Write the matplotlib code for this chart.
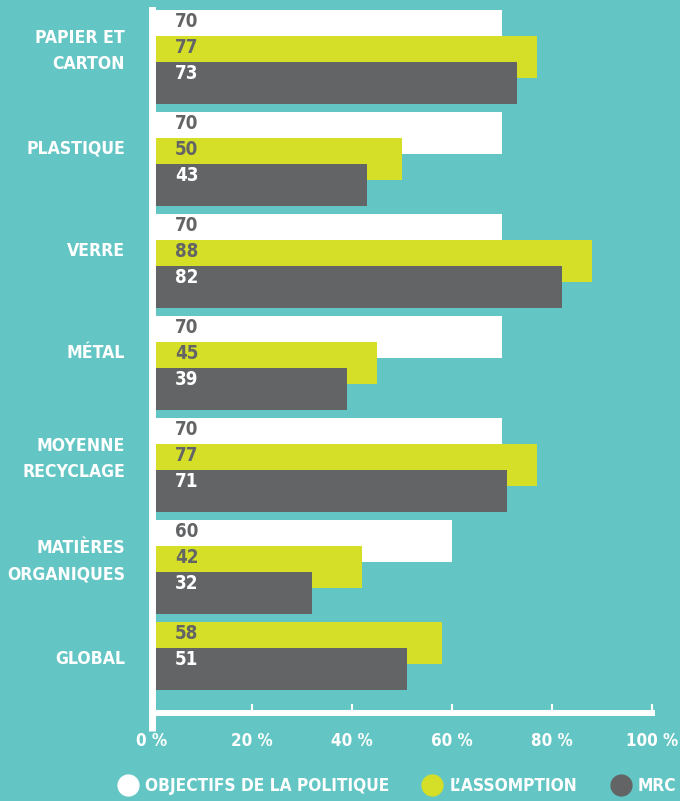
import matplotlib.pyplot as plt
from matplotlib.lines import Line2D
from matplotlib import font_manager

# données du graphique (taux de récupération, %)
categories = ["PAPIER ET\nCARTON", "PLASTIQUE", "VERRE", "MÉTAL",
              "MOYENNE\nRECYCLAGE", "MATIÈRES\nORGANIQUES", "GLOBAL"]
objectifs = [70, 70, 70, 70, 70, 60, None]
assomption = [77, 50, 88, 45, 77, 42, 58]
mrc = [73, 43, 82, 39, 71, 32, 51]
ticks = [0, 20, 40, 60, 80, 100]
tick_labels = ["0 %", "20 %", "40 %", "60 %", "80 %", "100 %"]

fond = "#64c6c4"
blanc = "#ffffff"
jaune = "#d5df27"
gris = "#636466"


def poids(f):
    w = f.weight
    if isinstance(w, str):
        w = font_manager.weight_dict.get(w, 400)
    return w


# on cherche une police étroite et grasse installée
etroites = []
for f in font_manager.fontManager.ttflist:
    etroit = "Condensed" in f.name or "Narrow" in f.name or f.stretch in ("condensed", "semi-condensed")
    if etroit and poids(f) >= 600 and "Italic" not in f.name and f.style == "normal":
        if f.name not in etroites:
            etroites.append(f.name)
plt.rcParams["font.family"] = etroites + ["DejaVu Sans"]
plt.rcParams["font.stretch"] = "condensed"
plt.rcParams["font.weight"] = "bold"

fig = plt.figure(figsize=(6.8, 8.01), dpi=100, facecolor=fond)
# axe : x de 152 px à 652 px, y de 10 px à 713 px
ax = fig.add_axes([152 / 680, (801 - 713) / 801, 500 / 680, 703 / 801])
ax.set_facecolor(fond)

pas = 102.0          # hauteur d'un groupe en pixels
h = 42 / pas         # hauteur d'une barre
dec = 26 / pas       # décalage entre barres (elles se chevauchent)

for i in range(len(categories)):
    series = [(objectifs[i], blanc, gris), (assomption[i], jaune, gris), (mrc[i], gris, "white")]
    series = [s for s in series if s[0] is not None]
    for k, (val, col, tcol) in enumerate(series):
        haut = i + k * dec
        ax.barh(haut + h / 2, val, height=h, color=col, left=0, zorder=2 + k)
        ax.text(4.6, haut + 11.5 / pas, str(val), color=tcol, fontsize=13.5,
                fontweight="bold", ha="left", va="center", zorder=10)

ax.set_xlim(0, 100)
ax.set_ylim(703 / pas, 0)

ax.set_yticks([i + 35 / pas for i in range(len(categories))])
ax.set_yticklabels(categories, color="white", fontsize=12.6, fontweight="bold",
                   linespacing=1.6, ha="right")
ax.tick_params(axis="y", left=False, pad=22 * 0.72)

ax.set_xticks(ticks)
ax.set_xticklabels(tick_labels, color="white", fontsize=12.2, fontweight="bold")
ax.tick_params(axis="x", direction="in", length=6.5, width=1.5, color="white", pad=14)

for s in ["top", "right"]:
    ax.spines[s].set_visible(False)
ax.spines["left"].set_color("white")
ax.spines["left"].set_linewidth(5)
ax.spines["left"].set_zorder(20)
ax.spines["bottom"].set_color("white")
ax.spines["bottom"].set_linewidth(4.3)
ax.spines["bottom"].set_zorder(20)
# prolongement de l'axe vertical sous l'axe horizontal
ax.plot([0, 0], [703 / pas, 721 / pas], color="white", lw=5, clip_on=False,
        solid_capstyle="butt", zorder=20)

handles = [Line2D([], [], marker="o", ls="", markersize=15, color=c) for c in (blanc, jaune, gris)]
leg = fig.legend(handles, ["OBJECTIFS DE LA POLITIQUE", "L’ASSOMPTION", "MRC"],
                 loc="center", bbox_to_anchor=(0.585, 0.019), ncol=3, frameon=False,
                 handlelength=1.0, handletextpad=0.5, columnspacing=2.0, borderpad=0,
                 prop={"size": 12.4, "weight": "bold"})
for t in leg.get_texts():
    t.set_color("white")

plt.savefig("out.png", dpi=100, facecolor=fond)
